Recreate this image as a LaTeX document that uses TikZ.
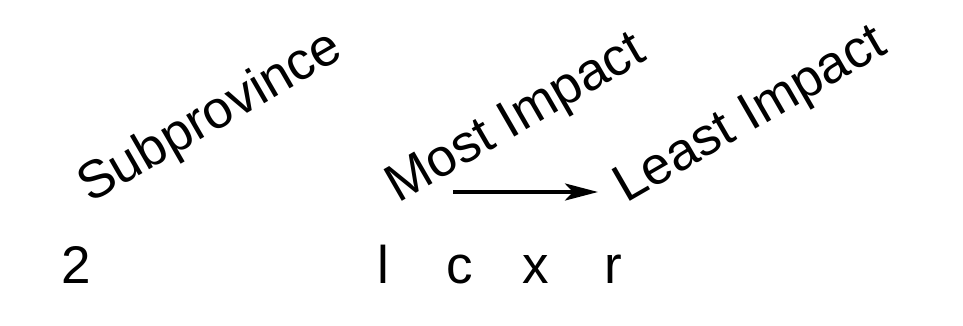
\documentclass[tikz,border=0pt]{standalone}
\usepackage{fontspec}
\setmainfont{Liberation Sans}
\usepackage{tikz}
\usetikzlibrary{arrows.meta}
\usetikzlibrary{positioning}
\tikzstyle{heading}=[rotate=30,anchor=base west,inner sep=0pt,font=\fontsize{26.5}{32}\selectfont]
\tikzstyle{colname}=[anchor=base,inner sep=0pt,font=\fontsize{26.5}{32}\selectfont]

\begin{document}
\begin{tikzpicture}[x=0.5pt,y=-0.5pt]
\useasboundingbox (0,0) rectangle (963,326);
\node [heading] (sub) at (90,204) {Subprovince};
\node [heading] (most) at (398,204) {Most Impact};
\node [heading] (least) at (626,204) {Least Impact};
\node [colname,anchor=base west] (two) at (61,283) {2};
\node [colname] (l) at (383.5,283) {l};
\node [colname] (c) at (460,283) {c};
\node [colname] (x) at (536,283) {x};
\node [colname] (r) at (613.5,283) {r};
\coordinate (from) at (453,192);
\coordinate (to) at (598,192);
\draw [line width=2pt,-{Stealth[length=16.5pt,width=8.5pt,inset=4pt]}] (from) -- (to);
\end{tikzpicture}
\end{document}
